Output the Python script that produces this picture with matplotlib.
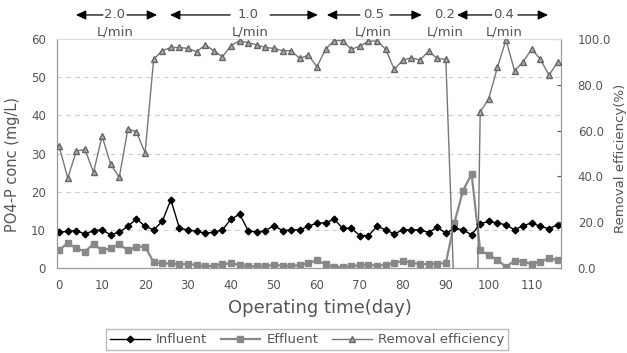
import matplotlib
matplotlib.use("Agg")
import matplotlib.pyplot as plt

# Datos
days = [0, 2, 4, 6, 8, 10, 12, 14, 16, 18, 20, 22, 24, 26, 28, 30, 32, 34, 36, 38,
        40, 42, 44, 46, 48, 50, 52, 54, 56, 58, 60, 62, 64, 66, 68, 70, 72, 74, 76, 78,
        80, 82, 84, 86, 88, 90, 92, 94, 96, 98, 100, 102, 104, 106, 108, 110, 112, 114, 116]

influent = [9.4, 9.6, 9.8, 8.9, 9.8, 10.0, 8.7, 9.4, 10.9, 12.9, 10.9, 10.0, 12.2, 17.9,
            10.4, 10.0, 9.6, 9.1, 9.4, 10.0, 12.8, 14.1, 9.8, 9.4, 9.8, 11.1, 9.8, 10.0,
            10.0, 10.9, 11.8, 11.8, 12.8, 10.4, 10.4, 8.5, 8.5, 10.9, 10.0, 8.9, 10.0,
            10.0, 10.0, 9.3, 10.7, 9.1, 10.4, 10.0, 8.7, 11.6, 12.2, 11.8, 11.3, 10.0,
            11.1, 11.8, 10.9, 10.3, 11.3]

effluent = [4.7, 6.5, 5.2, 4.3, 6.3, 4.6, 5.2, 6.3, 4.6, 5.6, 5.6, 1.5, 1.2, 1.2, 1.0,
            1.0, 0.8, 0.4, 0.6, 1.0, 1.2, 0.8, 0.5, 0.4, 0.5, 0.8, 0.6, 0.6, 0.7, 1.3,
            2.0, 1.0, 0.3, 0.3, 0.4, 0.8, 0.8, 0.6, 0.8, 1.4, 1.8, 1.4, 1.0, 1.0, 1.1,
            1.3, 11.9, 20.3, 24.6, 4.6, 3.4, 2.1, 0.3, 1.9, 1.7, 1.0, 1.7, 2.5, 2.1]

removal = [53.2, 39.3, 51.0, 51.8, 41.8, 57.6, 45.2, 39.6, 60.8, 59.4, 50.3, 91.2, 94.9,
           96.3, 96.3, 95.9, 94.4, 97.4, 94.9, 92.2, 97.1, 99.3, 98.4, 97.4, 96.3, 95.9,
           94.9, 94.9, 91.5, 93.0, 87.9, 95.5, 99.3, 99.3, 95.5, 96.9, 99.1, 99.1, 95.6,
           86.7, 90.8, 91.8, 90.8, 94.7, 91.5, 91.1, -15.0, -100.0, -180.0, 68.1, 74.0,
           87.6, 99.6, 86.1, 90.1, 95.6, 91.2, 84.2, 89.8]

flow_labels = ["2.0", "1.0", "0.5", "0.2", "0.4"]

txt = "#555555"
plt.rcParams["font.family"] = "DejaVu Sans"

fig = plt.figure(figsize=(6.27, 3.53), dpi=100)
ax = fig.add_axes([0.0909, 0.2408, 0.8038, 0.6487])
ax2 = ax.twinx()

ax.plot(days, influent, color="black", lw=1.0, marker="D", ms=3.4, zorder=4)
ax.plot(days, effluent, color="#888888", lw=1.6, marker="s", ms=3.8, zorder=3)
ax2.plot(days, removal, color="#777777", lw=1.0, marker="^", ms=4.2,
         mfc="#aaaaaa", mec="#666666", zorder=3)

ax.set_xlim(-0.5, 116.8)
ax.set_ylim(0, 60)
ax2.set_ylim(0, 100)
ax.set_xticks(range(0, 111, 10))
ax.set_yticks(range(0, 61, 10))
ax2.set_yticks(range(0, 101, 20))
ax2.set_yticklabels([f"{v:.1f}" for v in range(0, 101, 20)])

for y in range(10, 60, 10):
    ax.axhline(y, color="#cccccc", lw=0.8, ls=(0, (4, 4)), zorder=0)

for a in (ax, ax2):
    for s in a.spines.values():
        s.set_color("#999999")
    a.spines["top"].set_color("#dddddd")
ax.tick_params(axis="both", length=0, labelsize=8.5, colors=txt, pad=8)
ax2.tick_params(axis="y", length=3, direction="in", labelsize=8.5, colors=txt, pad=12)

ax.set_xlabel("Operating time(day)", fontsize=13, color=txt)
ax.xaxis.set_label_coords(0.522, -0.135)
ax.set_ylabel("PO4-P conc (mg/L)", fontsize=10.5, color=txt)
ax.yaxis.set_label_coords(-0.073, 0.45)
ax2.set_ylabel("Removal efficiency(%)", fontsize=9.5, color=txt)
ax2.yaxis.set_label_coords(1.105, 0.48)

# Flechas de caudal en la parte superior
tr = ax.get_xaxis_transform()
segments = [(3.9, 10.2, 15.8, 22.8, 13.0, 13.0),
            (25.8, 39.8, 49.1, 60.2, 43.9, 44.4),
            (62.3, 70.0, 77.0, 84.4, 73.3, 73.0),
            (None, None, None, None, 89.8, 89.8),
            (92.6, 100.7, 106.8, 113.8, 103.5, 103.5)]
arrow = dict(arrowstyle="-|>,head_length=0.6,head_width=0.28", color="black", lw=0.9,
             shrinkA=0, shrinkB=0)
for label, (x0, x1, x2, x3, xc, xl) in zip(flow_labels, segments):
    if x0 is not None:
        ax.annotate("", xy=(x0, 1.105), xytext=(x1, 1.105), xycoords=tr,
                    textcoords=tr, arrowprops=arrow, annotation_clip=False)
        ax.annotate("", xy=(x3, 1.105), xytext=(x2, 1.105), xycoords=tr,
                    textcoords=tr, arrowprops=arrow, annotation_clip=False)
    ax.text(xc, 1.105, label, transform=tr, ha="center", va="center",
            fontsize=9.5, color=txt)
    ax.text(xl, 1.031, "L/min", transform=tr, ha="center", va="center",
            fontsize=9.5, color=txt)

# Leyenda
h1 = plt.Line2D([], [], color="black", lw=1.0, marker="D", ms=3.4)
h2 = plt.Line2D([], [], color="#888888", lw=1.6, marker="s", ms=3.8)
h3 = plt.Line2D([], [], color="#777777", lw=1.0, marker="^", ms=4.2,
                mfc="#aaaaaa", mec="#666666")
leg = fig.legend([h1, h2, h3], ["Influent", "Effluent", "Removal efficiency"],
                 loc="center", bbox_to_anchor=(0.49, 0.037), ncol=3,
                 fontsize=9.5, frameon=True, fancybox=False, edgecolor="#aaaaaa",
                 handlelength=3.0, columnspacing=1.0, handletextpad=0.5,
                 borderpad=0.3)
for t in leg.get_texts():
    t.set_color(txt)

fig.savefig("out.png", dpi=100)
